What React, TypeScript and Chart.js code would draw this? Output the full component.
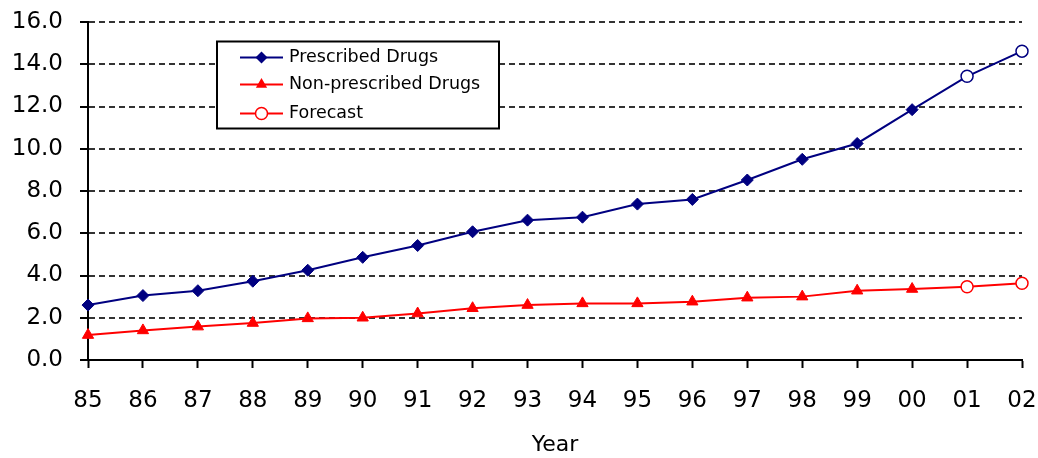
import React, { useEffect, useRef } from "react";
import { Chart, registerables } from "chart.js";

Chart.register(...registerables);

const years = ["85", "86", "87", "88", "89", "90", "91", "92", "93", "94", "95", "96", "97", "98", "99", "00", "01", "02"];

const prescribed = [2.6, 3.05, 3.28, 3.73, 4.25, 4.86, 5.42, 6.07, 6.62, 6.76, 7.38, 7.6, 8.52, 9.5, 10.25, 11.85, null, null];
const prescribedForecast = [null, null, null, null, null, null, null, null, null, null, null, null, null, null, null, 11.85, 13.43, 14.62];

const nonPrescribed = [1.18, 1.4, 1.58, 1.75, 1.97, 2.0, 2.2, 2.45, 2.6, 2.68, 2.68, 2.76, 2.95, 3.0, 3.28, 3.36, null, null];
const nonPrescribedForecast = [null, null, null, null, null, null, null, null, null, null, null, null, null, null, null, 3.36, 3.47, 3.63];

const yTicksMin = 0;
const yTicksMax = 16;
const yTicksStep = 2;

const legendLabels = ["Prescribed Drugs", "Non-prescribed Drugs", "Forecast"];

const NAVY = "#000080";
const RED = "#ff0000";
const FONT = "'DejaVu Sans', sans-serif";

const boxLegend = {
  id: "boxLegend",
  afterDraw(chart: any) {
    const { ctx, chartArea } = chart;
    const bx = chartArea.left + 129;
    const by = chartArea.top + 19.5;
    const bw = 282;
    const bh = 87;
    ctx.save();
    ctx.fillStyle = "#fff";
    ctx.fillRect(bx, by, bw, bh);
    ctx.strokeStyle = "#000";
    ctx.lineWidth = 2;
    ctx.strokeRect(bx, by, bw, bh);

    const rows = [by + 16, by + 43, by + 72];
    const x1 = bx + 23;
    const x2 = bx + 66;
    const mx = (x1 + x2) / 2;
    const colors = [NAVY, RED, RED];
    rows.forEach((ry, i) => {
      ctx.strokeStyle = colors[i];
      ctx.lineWidth = 2;
      ctx.beginPath();
      ctx.moveTo(x1, ry);
      ctx.lineTo(x2, ry);
      ctx.stroke();
      ctx.fillStyle = colors[i];
      ctx.beginPath();
      if (i === 0) {
        const r = 6;
        ctx.moveTo(mx - r, ry);
        ctx.lineTo(mx, ry - r);
        ctx.lineTo(mx + r, ry);
        ctx.lineTo(mx, ry + r);
        ctx.closePath();
        ctx.fill();
      } else if (i === 1) {
        const r = 6.5;
        ctx.moveTo(mx, ry - r);
        ctx.lineTo(mx + r * 0.866, ry + r * 0.5);
        ctx.lineTo(mx - r * 0.866, ry + r * 0.5);
        ctx.closePath();
        ctx.fill();
      } else {
        ctx.arc(mx, ry, 6, 0, Math.PI * 2);
        ctx.fillStyle = "#fff";
        ctx.fill();
        ctx.lineWidth = 1.5;
        ctx.stroke();
      }
      ctx.fillStyle = "#000";
      ctx.font = `17.5px ${FONT}`;
      ctx.textBaseline = "middle";
      ctx.textAlign = "left";
      ctx.fillText(legendLabels[i], bx + 72, ry);
    });
    ctx.restore();
  },
};

export default function App() {
  const canvasRef = useRef<HTMLCanvasElement | null>(null);

  useEffect(() => {
    if (!canvasRef.current) return;
    const chart = new Chart(canvasRef.current, {
      type: "line",
      data: {
        labels: years,
        datasets: [
          {
            label: legendLabels[0],
            data: prescribed,
            borderColor: NAVY,
            backgroundColor: NAVY,
            borderWidth: 2,
            pointStyle: "rectRot",
            pointRadius: 6,
            pointBorderWidth: 1,
            pointBorderColor: NAVY,
            pointBackgroundColor: NAVY,
          },
          {
            label: legendLabels[1],
            data: nonPrescribed,
            borderColor: RED,
            backgroundColor: RED,
            borderWidth: 2,
            pointStyle: "triangle",
            pointRadius: 6.5,
            pointBorderWidth: 1,
            pointBorderColor: RED,
            pointBackgroundColor: RED,
          },
          {
            label: "Prescribed forecast",
            data: prescribedForecast,
            borderColor: NAVY,
            borderWidth: 2,
            pointStyle: "circle",
            pointRadius: (c: any) => (c.dataIndex > 15 ? 6 : 0),
            pointBorderWidth: 1.5,
            pointBorderColor: NAVY,
            pointBackgroundColor: "#fff",
          },
          {
            label: legendLabels[2],
            data: nonPrescribedForecast,
            borderColor: RED,
            borderWidth: 2,
            pointStyle: "circle",
            pointRadius: (c: any) => (c.dataIndex > 15 ? 6 : 0),
            pointBorderWidth: 1.5,
            pointBorderColor: RED,
            pointBackgroundColor: "#fff",
          },
        ],
      },
      options: {
        animation: false,
        responsive: true,
        maintainAspectRatio: false,
        layout: { padding: { top: 22, right: 16, bottom: 0, left: 0 } },
        plugins: {
          legend: { display: false },
          tooltip: { enabled: false },
          title: { display: false },
        },
        scales: {
          x: {
            type: "category",
            offset: false,
            afterFit: (s: any) => {
              s.height = 98;
              s.paddingLeft = 0;
              s.paddingRight = 0;
            },
            grid: {
              drawOnChartArea: false,
              drawTicks: true,
              tickLength: 8,
              tickColor: "#000",
              tickWidth: 2,
            },
            border: { color: "#000", width: 2 },
            ticks: {
              color: "#000",
              font: { family: FONT, size: 23 },
              padding: 19,
              maxRotation: 0,
              autoSkip: false,
            },
            title: {
              display: true,
              text: "Year",
              color: "#000",
              font: { family: FONT, size: 22 },
              padding: { top: 0, bottom: 0 },
            },
          },
          y: {
            min: yTicksMin,
            max: yTicksMax,
            afterFit: (s: any) => {
              s.width = 88;
              s.paddingTop = 0;
              s.paddingBottom = 0;
            },
            grid: {
              color: (c: any) => (c.tick && c.tick.value === 0 ? "rgba(0,0,0,0)" : "#333"),
              lineWidth: 2,
              drawTicks: true,
              tickLength: 8,
              tickColor: "#000",
              tickWidth: 2,
              tickBorderDash: [],
            },
            border: { color: "#000", width: 2, dash: [6, 4] },
            ticks: {
              stepSize: yTicksStep,
              color: "#000",
              font: { family: FONT, size: 23 },
              padding: 17,
              callback: (v: any) => Number(v).toFixed(1),
            },
          },
        },
      },
      plugins: [boxLegend],
    });
    return () => chart.destroy();
  }, []);

  return (
    <div style={{ position: "fixed", left: 0, top: 0, width: 1038, height: 458, background: "#fff" }}>
      <canvas ref={canvasRef} />
    </div>
  );
}
